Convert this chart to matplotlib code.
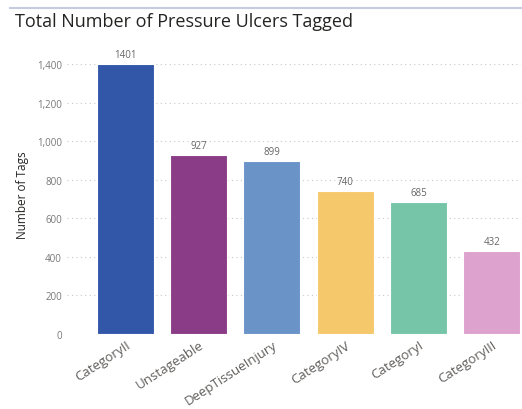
import matplotlib.pyplot as plt
from matplotlib.lines import Line2D

categories = ["CategoryII", "Unstageable", "DeepTissueInjury", "CategoryIV", "CategoryI", "CategoryIII"]
tags = [1401, 927, 899, 740, 685, 432]
colors = ["#3257A8", "#8B3C87", "#6A93C8", "#F5C96B", "#77C5A8", "#DDA2CD"]
yticks = [0, 200, 400, 600, 800, 1000, 1200, 1400]

plt.rcParams["font.family"] = ["Open Sans", "DejaVu Sans"]

fig = plt.figure(figsize=(5.22, 4.10), dpi=100)
ax = fig.add_axes([0.128, 0.183, 0.870, 0.683])

x = range(len(categories))
bars = ax.bar(x, tags, width=0.78, color=colors, edgecolor="#FFFFFF", linewidth=0.8, zorder=3)
for b, v in zip(bars, tags):
    ax.text(b.get_x() + b.get_width() / 2, v + 20, str(v), ha="center", va="bottom",
            fontsize=7, color="#666666")

ax.set_xlim(-0.8, 5.4)
ax.set_ylim(0, 1452)
ax.set_yticks(yticks)
ax.set_yticklabels([f"{t:,}" for t in yticks], fontsize=7, color="#777777")
ax.set_xticks(list(x))
ax.set_xticklabels(categories, rotation=33, ha="right", rotation_mode="anchor",
                   fontsize=9.5, color="#605E5C")
ax.tick_params(length=0)
ax.tick_params(axis="x", pad=3)
ax.grid(axis="y", linestyle=(0, (1, 3)), color="#C8C8C8", linewidth=0.8, zorder=0)
for s in ax.spines.values():
    s.set_visible(False)
ax.set_ylabel("Number of Tags", fontsize=8.5, color="#252423", labelpad=6)

fig.text(0.028, 0.946, "Total Number of Pressure Ulcers Tagged", fontsize=13, color="#252423",
         va="center")
fig.add_artist(Line2D([0.02, 1.0], [0.978, 0.978], color="#C5CCE0", linewidth=1.5))

fig.savefig("out.png", dpi=100)
